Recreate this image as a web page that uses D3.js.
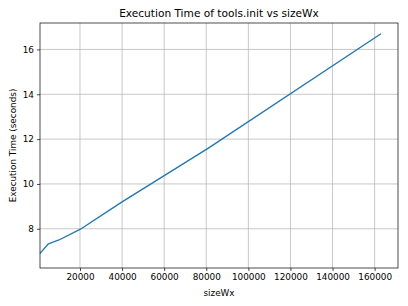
<!DOCTYPE html>
<html><head><meta charset="utf-8">
<script src="https://cdn.jsdelivr.net/npm/d3@7"></script>
<style>body{margin:0;background:#fff}svg{display:block}text{font-family:"DejaVu Sans",sans-serif;fill:#000}</style>
</head><body><svg id="c" width="408" height="306"></svg>
<script>
const sizes = [1000, 5000, 10000, 20000, 40000, 81000, 163000];
const times = [6.9, 7.33, 7.5, 7.97, 9.2, 11.6, 16.7];
const xTicks = [20000, 40000, 60000, 80000, 100000, 120000, 140000, 160000];
const yTicks = [8, 10, 12, 14, 16];

const svg = d3.select("#c");
const m = {l: 40, r: 398, t: 23, b: 268};
const x = d3.scaleLinear().domain([1000, 171100]).range([m.l, m.r]);
const y = d3.scaleLinear().domain([6.25, 17.18]).range([m.b, m.t]);

svg.append("rect").attr("width",408).attr("height",306).attr("fill","#fff");
const g = svg.append("g");
// grid
g.selectAll(".gx").data(xTicks).enter().append("line")
  .attr("x1",d=>x(d)).attr("x2",d=>x(d)).attr("y1",m.t).attr("y2",m.b)
  .attr("stroke","#b0b0b0").attr("stroke-width",0.7);
g.selectAll(".gy").data(yTicks).enter().append("line")
  .attr("y1",d=>y(d)).attr("y2",d=>y(d)).attr("x1",m.l).attr("x2",m.r)
  .attr("stroke","#b0b0b0").attr("stroke-width",0.7);

// line
const line = d3.line().x((d,i)=>x(sizes[i])).y(d=>y(d));
g.append("path").datum(times).attr("d",line).attr("fill","none")
  .attr("stroke","#1f77b4").attr("stroke-width",1.33).attr("stroke-linejoin","round");

// axes
const xa = g.append("g").attr("transform",`translate(0,${m.b})`)
  .call(d3.axisBottom(x).tickValues(xTicks).tickFormat(d3.format("d")).tickSize(3.1).tickPadding(3));
const ya = g.append("g").attr("transform",`translate(${m.l},0)`)
  .call(d3.axisLeft(y).tickValues(yTicks).tickFormat(d3.format("d")).tickSize(3.1).tickPadding(3));
[xa, ya].forEach(a=>{
  a.select(".domain").remove();
  a.selectAll("text").attr("font-size","8.85px").style("font-family","DejaVu Sans").attr("fill","#000");
  a.selectAll("line").attr("stroke","#000").attr("stroke-width",0.7);
});
// frame
g.append("rect").attr("x",m.l).attr("y",m.t).attr("width",m.r-m.l).attr("height",m.b-m.t)
  .attr("fill","none").attr("stroke","#000").attr("stroke-width",0.7);

svg.append("text").attr("x",(m.l+m.r)/2).attr("y",17).attr("text-anchor","middle")
  .attr("font-size","10.6px").text("Execution Time of tools.init vs sizeWx");
svg.append("text").attr("x",(m.l+m.r)/2).attr("y",296).attr("text-anchor","middle")
  .attr("font-size","8.85px").text("sizeWx");
svg.append("text").attr("transform",`translate(16,${(m.t+m.b)/2}) rotate(-90)`).attr("text-anchor","middle")
  .attr("font-size","8.85px").text("Execution Time (seconds)");
</script></body></html>
